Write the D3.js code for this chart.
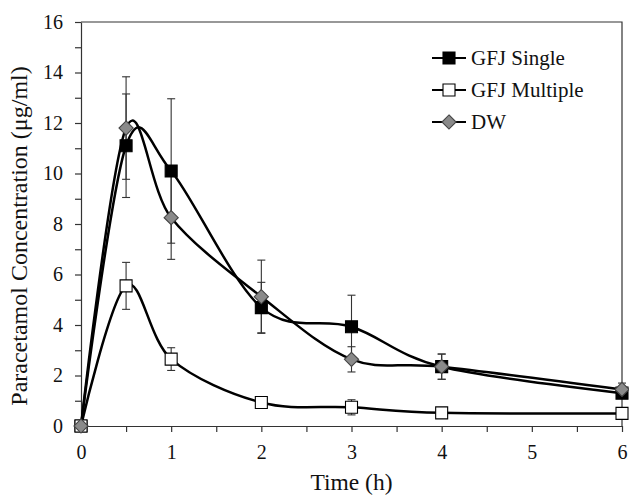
<!DOCTYPE html>
<html>
<head>
<meta charset="utf-8">
<script src="https://d3js.org/d3.v7.min.js"></script>
<style>
  body { margin: 0; background: #fff; }
  text { font-family: "Liberation Serif", "Times New Roman", serif; fill: #111; }
</style>
</head>
<body>
<svg id="chart"></svg>
<script>
// data
const times = [0, 0.5, 1, 2, 3, 4, 6];
const gfjSingle = [0, 11.1, 10.1, 4.69, 3.93, 2.35, 1.3];
const gfjSingleErr = [0, 2.05, 2.86, 1.0, 1.25, 0.5, 0];
const gfjMultiple = [0, 5.55, 2.65, 0.93, 0.74, 0.52, 0.5];
const gfjMultipleErr = [0, 0.93, 0.45, 0.15, 0.3, 0, 0];
const dw = [0, 11.8, 8.25, 5.12, 2.64, 2.35, 1.45];
const dwErr = [0, 2.03, 1.65, 1.45, 0.5, 0.5, 0.25];
const seriesNames = ["GFJ Single", "GFJ Multiple", "DW"];

const width = 629, height = 495;
const margin = {top: 22, right: 7, bottom: 69, left: 81};

const svg = d3.select("#chart")
    .attr("width", width)
    .attr("height", height);

const x = d3.scaleLinear().domain([0, 6]).range([margin.left, width - margin.right]);
const y = d3.scaleLinear().domain([0, 16]).range([height - margin.bottom, margin.top]);

// frame top + right
svg.append("path")
    .attr("d", `M${x(0)},${y(16)}H${x(6)}V${y(0)}`)
    .attr("fill", "none")
    .attr("stroke", "#333")
    .attr("stroke-width", 1.2);

// minor ticks
svg.append("g")
    .attr("transform", `translate(0,${y(0)})`)
    .call(d3.axisBottom(x).tickValues(d3.range(0.5, 6, 1)).tickSize(6).tickFormat(""))
    .call(g => g.select(".domain").remove());
svg.append("g")
    .attr("transform", `translate(${x(0)},0)`)
    .call(d3.axisLeft(y).tickValues(d3.range(1, 16, 2)).tickSize(6).tickFormat(""))
    .call(g => g.select(".domain").remove());

const xAxis = svg.append("g")
    .attr("transform", `translate(0,${y(0)})`)
    .call(d3.axisBottom(x).ticks(6).tickSize(6).tickSizeOuter(0).tickPadding(13));
const yAxis = svg.append("g")
    .attr("transform", `translate(${x(0)},0)`)
    .call(d3.axisLeft(y).tickValues(d3.range(0, 17, 2)).tickSize(6).tickSizeOuter(0).tickPadding(12));

svg.selectAll(".tick line").attr("stroke", "#333").attr("stroke-width", 1.2);
svg.selectAll(".domain").attr("stroke", "#333").attr("stroke-width", 1.2);
svg.selectAll(".tick text").style("font-family", "Liberation Serif").style("font-size", "20px").attr("fill", "#111");

// axis titles
svg.append("text")
    .attr("x", (x(0) + x(6)) / 2)
    .attr("y", 490)
    .attr("text-anchor", "middle")
    .style("font-size", "23.5px")
    .text("Time (h)");
svg.append("text")
    .attr("transform", `translate(27,236) rotate(-90)`)
    .attr("text-anchor", "middle")
    .style("font-size", "24px")
    .text("Paracetamol Concentration (μg/ml)");

const series = [
  {name: seriesNames[0], values: gfjSingle, err: gfjSingleErr, shape: "square", fill: "#000"},
  {name: seriesNames[1], values: gfjMultiple, err: gfjMultipleErr, shape: "square", fill: "#fff"},
  {name: seriesNames[2], values: dw, err: dwErr, shape: "diamond", fill: "#8a8a8a"}
];

// error bars
const errG = svg.append("g").attr("stroke", "#333").attr("stroke-width", 1.1);
series.forEach(s => {
  times.forEach((t, i) => {
    const e = s.err[i];
    if (!e) return;
    const cx = x(t);
    const y1 = y(s.values[i] + e), y2 = y(s.values[i] - e);
    errG.append("line").attr("x1", cx).attr("x2", cx).attr("y1", y1).attr("y2", y2);
    errG.append("line").attr("x1", cx - 4).attr("x2", cx + 4).attr("y1", y1).attr("y2", y1);
    errG.append("line").attr("x1", cx - 4).attr("x2", cx + 4).attr("y1", y2).attr("y2", y2);
  });
});

// lines
const line = d3.line()
    .x(d => x(d[0]))
    .y(d => y(d[1]))
    .curve(d3.curveCardinal.tension(0));
series.forEach(s => {
  svg.append("path")
      .datum(times.map((t, i) => [t, s.values[i]]))
      .attr("d", line)
      .attr("fill", "none")
      .attr("stroke", "#000")
      .attr("stroke-width", 2.5);
});

// markers
const squareDiamond = {
  draw(ctx, size) {
    const r = Math.sqrt(size / 2);
    ctx.moveTo(0, -r); ctx.lineTo(r, 0); ctx.lineTo(0, r); ctx.lineTo(-r, 0); ctx.closePath();
  }
};
const sqSym = d3.symbol().type(d3.symbolSquare).size(144);
const diaSym = d3.symbol().type(squareDiamond).size(100);
function drawMarker(g, s, cx, cy) {
  g.append("path")
      .attr("d", s.shape === "square" ? sqSym() : diaSym())
      .attr("transform", `translate(${cx},${cy})`)
      .attr("fill", s.fill)
      .attr("stroke", s.shape === "diamond" ? "#444" : "#000")
      .attr("stroke-width", 1.1);
}
const markG = svg.append("g");
series.forEach(s => {
  times.forEach((t, i) => drawMarker(markG, s, x(t), y(s.values[i])));
});

// legend
const legend = svg.append("g");
series.forEach((s, i) => {
  const ly = 58 + i * 32;
  legend.append("line")
      .attr("x1", 432).attr("x2", 466).attr("y1", ly).attr("y2", ly)
      .attr("stroke", "#000").attr("stroke-width", 2);
  drawMarker(legend, s, 449, ly);
  legend.append("text")
      .attr("x", 471)
      .attr("y", ly + 7)
      .style("font-size", "21px")
      .text(s.name);
});
</script>
</body>
</html>
